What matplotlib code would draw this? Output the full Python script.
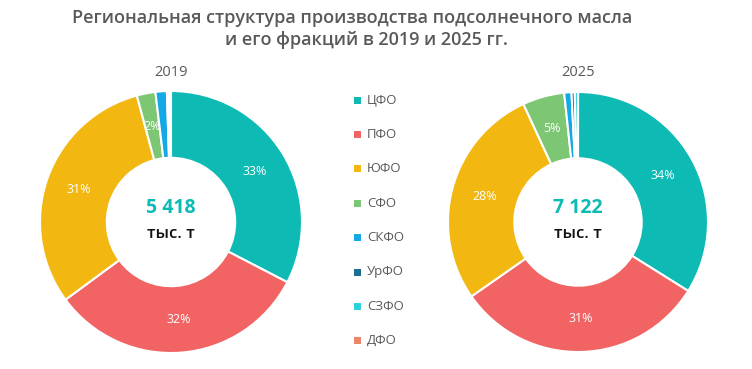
import matplotlib
matplotlib.use("Agg")
import matplotlib.pyplot as plt
from matplotlib.patches import Rectangle
import numpy as np

plt.rcParams['font.family'] = ['Open Sans', 'DejaVu Sans']

categories = ["ЦФО", "ПФО", "ЮФО", "СФО", "СКФО", "УрФО", "СЗФО", "ДФО"]
colors = ["#0DBBB4", "#F26464", "#F2B811", "#7DC674", "#13A8E6", "#1C6F8E", "#28D3DE", "#E9866C"]
shares_2019 = [32.6, 32.3, 30.9, 2.3, 1.4, 0.2, 0.2, 0.1]
shares_2025 = [33.9, 31.4, 27.8, 5.2, 0.9, 0.4, 0.4, 0.0]
labels_2019 = ["33%", "32%", "31%", "2%", "", "", "", ""]
labels_2025 = ["34%", "31%", "28%", "5%", "", "", "", ""]
totals = ["5 418", "7 122"]
years = ["2019", "2025"]
unit = "тыс. т"
title_lines = ["Региональная структура производства подсолнечного масла",
               "и его фракций в 2019 и 2025 гг."]

W, H = 752, 369
fig = plt.figure(figsize=(W / 100, H / 100), dpi=100)

gray = "#595959"

def donut(cx, cy, r, vals, labs, total, year):
    ax = fig.add_axes([(cx - r) / W, (H - cy - r) / H, 2 * r / W, 2 * r / H])
    ax.pie(vals, colors=colors, startangle=90, counterclock=False,
           radius=1.0, wedgeprops=dict(width=0.51, edgecolor="white", linewidth=1.5))
    cum = 0.0
    tot = sum(vals)
    for v, lab in zip(vals, labs):
        mid = cum + v / 2
        cum += v
        if lab:
            ang = np.deg2rad(90 - 360 * mid / tot)
            ax.text(0.745 * np.cos(ang), 0.745 * np.sin(ang), lab, ha="center", va="center",
                    color="white", fontsize=9)
    ax.text(0, 0.105, total, ha="center", va="center", color="#0DBBB4", fontsize=14, fontweight="bold")
    ax.text(0, -0.09, unit, ha="center", va="center", color="#111111", fontsize=12, fontweight="semibold")
    ax.set_xlim(-1, 1)
    ax.set_ylim(-1, 1)
    ax.set_aspect("equal")
    ax.axis("off")
    fig.text(cx / W, 1 - 72 / H, year, ha="center", va="center", color=gray, fontsize=10.5)

donut(171, 222, 131, shares_2019, labels_2019, totals[0], years[0])
donut(578, 222, 130, shares_2025, labels_2025, totals[1], years[1])

fig.text(352 / W, 1 - 18 / H, title_lines[0], ha="center", va="center", color=gray,
         fontsize=13, fontweight="semibold")
fig.text(366 / W, 1 - 40 / H, title_lines[1], ha="center", va="center", color=gray,
         fontsize=13, fontweight="semibold")

# legend
y0, dy = 100, 34.4
for i, (c, name) in enumerate(zip(colors, categories)):
    y = y0 + i * dy
    fig.patches.append(Rectangle((354 / W, 1 - (y + 3.5) / H), 7 / W, 7 / H,
                                 transform=fig.transFigure, facecolor=c, edgecolor="none"))
    fig.text(367 / W, 1 - y / H, name, ha="left", va="center", color=gray, fontsize=9.5)

fig.savefig("out.png", dpi=100, facecolor="white")
